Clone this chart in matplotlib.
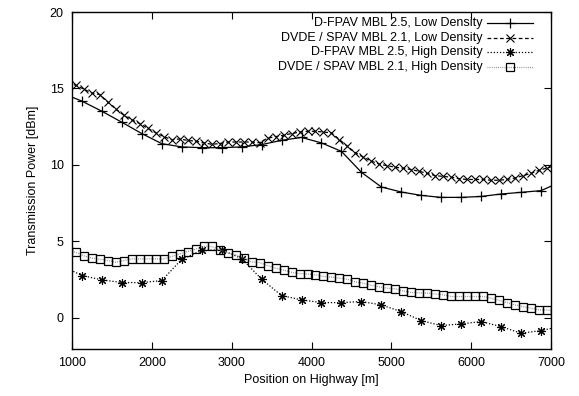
import matplotlib
matplotlib.use("Agg")
import matplotlib.pyplot as plt
from matplotlib.lines import Line2D

plt.rcParams['font.family'] = ['Liberation Sans', 'DejaVu Sans']

# ---- data ----
x_coarse = [875, 1125, 1375, 1625, 1875, 2125, 2375, 2625, 2875, 3125, 3375, 3625,
            3875, 4125, 4375, 4625, 4875, 5125, 5375, 5625, 5875, 6125, 6375, 6625,
            6875, 7125]
x_fine = [950, 1050, 1150, 1250, 1350, 1450, 1550, 1650, 1750, 1850, 1950, 2050,
          2150, 2250, 2350, 2450, 2550, 2650, 2750, 2850, 2950, 3050, 3150, 3250,
          3350, 3450, 3550, 3650, 3750, 3850, 3950, 4050, 4150, 4250, 4350, 4450,
          4550, 4650, 4750, 4850, 4950, 5050, 5150, 5250, 5350, 5450, 5550, 5650,
          5750, 5850, 5950, 6050, 6150, 6250, 6350, 6450, 6550, 6650, 6750, 6850,
          6950, 7050]

dfpav_low = [14.7, 14.17, 13.51, 12.79, 12.05, 11.39, 11.18, 11.13, 11.13, 11.18,
             11.33, 11.61, 11.8, 11.44, 10.89, 9.52, 8.56, 8.23, 8.01, 7.88, 7.88,
             7.94, 8.10, 8.21, 8.32, 8.9]
dvde_low = [15.4, 15.2, 14.95, 14.7, 14.6, 14.1, 13.65, 13.25, 12.95, 12.7, 12.4,
            12.1, 11.85, 11.65, 11.7, 11.6, 11.55, 11.45, 11.35, 11.4, 11.5, 11.5,
            11.5, 11.5, 11.45, 11.75, 11.85, 11.95, 12.05, 12.15, 12.2, 12.2, 12.15,
            12.1, 11.66, 11.22, 10.8, 10.5, 10.25, 10.05, 9.95, 9.85, 9.78, 9.7,
            9.58, 9.45, 9.3, 9.25, 9.2, 9.1, 9.05, 9.05, 9.05, 9.0, 9.0, 9.05, 9.15,
            9.3, 9.45, 9.65, 9.8, 9.95]
dfpav_high = [3.4, 2.77, 2.49, 2.31, 2.31, 2.44, 3.84, 4.41, 4.45, 3.88, 2.53, 1.46,
              1.18, 1.0, 1.0, 1.07, 0.85, 0.41, -0.18, -0.5, -0.39, -0.24, -0.57,
              -1.0, -0.83, -0.55]
dvde_high = [4.45, 4.28, 4.06, 3.91, 3.84, 3.75, 3.64, 3.75, 3.86, 3.86, 3.86, 3.86,
             3.86, 4.02, 4.19, 4.34, 4.5, 4.67, 4.67, 4.45, 4.25, 4.13, 3.91, 3.66,
             3.62, 3.42, 3.25, 3.12, 2.98, 2.9, 2.87, 2.81, 2.71, 2.67, 2.6, 2.53,
             2.36, 2.27, 2.13, 2.03, 1.94, 1.9, 1.76, 1.67, 1.64, 1.62, 1.57, 1.51,
             1.4, 1.4, 1.4, 1.4, 1.4, 1.29, 1.14, 1.0, 0.85, 0.74, 0.63, 0.52, 0.52,
             0.45]

labels = ["D-FPAV MBL 2.5, Low Density",
          "DVDE / SPAV MBL 2.1, Low Density",
          "D-FPAV MBL 2.5, High Density",
          "DVDE / SPAV MBL 2.1, High Density"]
x_ticks = [1000, 2000, 3000, 4000, 5000, 6000, 7000]
y_ticks = [0, 5, 10, 15, 20]

# ---- styles ----
styles = [
    dict(color='black', lw=0.9, ls='-', marker='+', ms=7, mew=0.9, mfc='none', mec='black'),
    dict(color='black', lw=0.9, ls=(0, (3, 2)), marker='x', ms=6, mew=0.8, mfc='none', mec='black'),
    dict(color='black', lw=0.9, ls=(0, (1, 1.5)), marker=(8, 2, 0), ms=6.5, mew=0.8, mfc='none', mec='black'),
    dict(color='#888888', lw=0.9, ls=(0, (0.7, 1.0)), marker='s', ms=5.5, mew=0.9, mfc='none', mec='black'),
]

fig = plt.figure(figsize=(5.79, 3.96), dpi=100)
ax = fig.add_axes([72/579, 1 - 348.5/396, (551-72)/579, (348.5-12)/396])

series = [(x_coarse, dfpav_low), (x_fine, dvde_low), (x_coarse, dfpav_high), (x_fine, dvde_high)]
for (xs, ys), st in zip(series, styles):
    ax.plot(xs, ys, **st)

ax.set_xlim(1000, 7000)
ax.set_ylim(-2, 20)
ax.set_xticks(x_ticks)
ax.set_yticks(y_ticks)
ax.tick_params(direction='in', top=True, right=True, length=5, width=0.8, labelsize=9, pad=6)
for s in ax.spines.values():
    s.set_linewidth(1.0)
ax.set_xlabel("Position on Highway [m]", fontsize=9, labelpad=4)
ax.set_ylabel("Transmission Power [dBm]", fontsize=9, labelpad=8)

# ---- legend (gnuplot style: right-justified text, sample on right) ----
rows_y = [0.967, 0.923, 0.881, 0.837]
for lab, st, yy in zip(labels, styles, rows_y):
    ax.text(0.858, yy, lab, transform=ax.transAxes, ha='right', va='center', fontsize=9)
    ln = Line2D([0.866, 0.962], [yy, yy], transform=ax.transAxes,
                color=st['color'], lw=st['lw'], ls=st['ls'])
    ax.add_line(ln)
    mk = Line2D([0.914], [yy], transform=ax.transAxes, ls='none', marker=st['marker'],
                ms=st['ms'], mew=st['mew'], mfc='none', mec=st['mec'])
    ax.add_line(mk)

fig.savefig("out.png", dpi=100)
